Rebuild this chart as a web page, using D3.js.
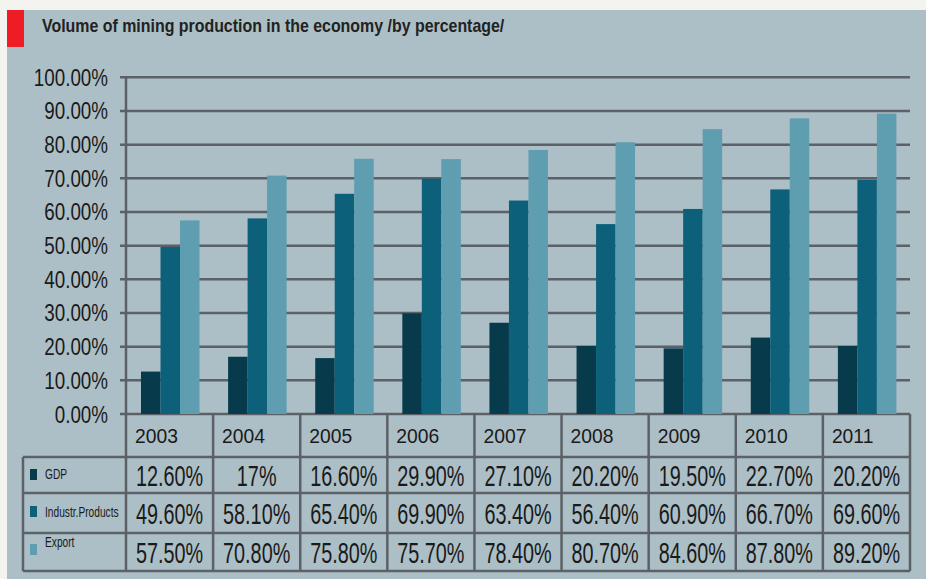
<!DOCTYPE html>
<html>
<head>
<meta charset="utf-8">
<script src="https://cdn.jsdelivr.net/npm/d3@7"></script>
<style>
  body { margin: 0; background: #f3f4f0; }
  svg { display: block; }
  text { font-family: "Liberation Sans", Arial, sans-serif; fill: #1a1a1a; }
</style>
</head>
<body>
<svg width="926" height="579"></svg>
<script>
var title = "Volume of mining production in the economy /by percentage/";
var years = ["2003", "2004", "2005", "2006", "2007", "2008", "2009", "2010", "2011"];
var seriesNames = ["GDP", "Industr.Products", "Export"];
var gdp = [12.6, 17, 16.6, 29.9, 27.1, 20.2, 19.5, 22.7, 20.2];
var industr = [49.6, 58.1, 65.4, 69.9, 63.4, 56.4, 60.9, 66.7, 69.6];
var exportVals = [57.5, 70.8, 75.8, 75.7, 78.4, 80.7, 84.6, 87.8, 89.2];
var yTicks = [0, 10, 20, 30, 40, 50, 60, 70, 80, 90, 100];

var seriesValues = [gdp, industr, exportVals];
var color = d3.scaleOrdinal()
    .domain(seriesNames)
    .range(["#073a4a", "#0d6079", "#5f9db0"]);

var svg = d3.select("svg");
var gridColor = "#5b6166";

// panel + header
svg.append("rect")
    .attr("x", 7).attr("y", 10)
    .attr("width", 919).attr("height", 569)
    .style("fill", "#acbfc6");
svg.append("rect")
    .attr("x", 7).attr("y", 10)
    .attr("width", 17).attr("height", 37)
    .style("fill", "#ee1c25");
svg.append("text")
    .attr("transform", "translate(42,32) scale(0.885,1)")
    .style("font-size", "18px")
    .style("font-weight", "bold")
    .style("fill", "#222")
    .text(title);

var x = d3.scaleBand()
    .domain(years)
    .range([126, 910]);
var xInner = d3.scaleBand()
    .domain(seriesNames)
    .range([15, 73.5]);
var y = d3.scaleLinear()
    .domain([0, 100])
    .range([414, 77.3]);

var fmtTick = d3.format(".2f");

// gridlines + y labels
var tick = svg.append("g").attr("class", "y-ticks")
  .selectAll("g")
  .data(yTicks)
  .enter().append("g");

tick.append("line")
    .attr("x1", 120).attr("x2", 910)
    .attr("y1", function(d) { return y(d); })
    .attr("y2", function(d) { return y(d); })
    .style("stroke", gridColor)
    .style("stroke-width", 2.5);

tick.append("text")
    .attr("transform", function(d) { return "translate(108," + (y(d) + 8.5) + ") scale(0.8,1)"; })
    .style("font-size", "23.5px")
    .style("text-anchor", "end")
    .text(function(d) { return fmtTick(d) + "%"; });

// bars
var group = svg.append("g").attr("class", "bars")
  .selectAll("g")
  .data(years)
  .enter().append("g")
    .attr("transform", function(d) { return "translate(" + x(d) + ",0)"; });

group.selectAll("rect")
  .data(function(d, i) {
    return seriesNames.map(function(s, j) { return {key: s, value: seriesValues[j][i]}; });
  })
  .enter().append("rect")
    .attr("x", function(d) { return xInner(d.key); })
    .attr("width", xInner.bandwidth())
    .attr("y", function(d) { return y(d.value); })
    .attr("height", function(d) { return y(0) - y(d.value); })
    .style("fill", function(d) { return color(d.key); });

// table
var rowLines = [457, 493, 533, 571];
var table = svg.append("g").attr("class", "table");

function hline(x1, x2, yy) {
  table.append("line").attr("x1", x1).attr("x2", x2).attr("y1", yy).attr("y2", yy)
      .style("stroke", gridColor).style("stroke-width", 2.5);
}
function vline(xx, y1, y2) {
  table.append("line").attr("x1", xx).attr("x2", xx).attr("y1", y1).attr("y2", y2)
      .style("stroke", gridColor).style("stroke-width", 2.5);
}

rowLines.forEach(function(r) { hline(23, 910, r); });
vline(23, 457, 571);
vline(126, 77.3, 571);
years.forEach(function(yr) { vline(x(yr) + x.bandwidth(), 414, 571); });

// year headers
table.selectAll(".year")
  .data(years)
  .enter().append("text")
    .attr("class", "year")
    .attr("transform", function(d) { return "translate(" + (x(d) + 9) + ",443) scale(0.92,1)"; })
    .style("font-size", "21px")
    .text(function(d) { return d; });

function fmtVal(v) {
  return (Number.isInteger(v) ? String(v) : d3.format(".2f")(v)) + "%";
}

seriesNames.forEach(function(s, j) {
  var top = rowLines[j], bottom = rowLines[j + 1];
  var mid = (top + bottom) / 2;

  table.selectAll(".val" + j)
    .data(seriesValues[j])
    .enter().append("text")
      .attr("transform", function(d, i) {
        return "translate(" + (x(years[i]) + x.bandwidth() / 2) + "," + (mid + 10.5) + ") scale(0.66,1)";
      })
      .style("font-size", "30px")
      .style("text-anchor", "middle")
      .text(fmtVal);
});

// legend cells
var legendSq = [469, 506, 544];
var legendBase = [479, 517, 547];
seriesNames.forEach(function(s, j) {
  table.append("rect")
      .attr("x", 30).attr("y", legendSq[j])
      .attr("width", 7).attr("height", 11)
      .style("fill", color(s));
  table.append("text")
      .attr("transform", "translate(45," + legendBase[j] + ") scale(0.68,1)")
      .style("font-size", "15px")
      .text(s);
});
</script>
</body>
</html>
